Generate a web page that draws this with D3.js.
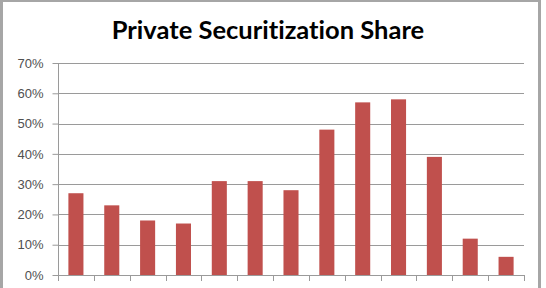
<!DOCTYPE html>
<html>
<head>
<meta charset="utf-8">
<script src="https://cdn.jsdelivr.net/npm/d3@7"></script>
<style>
  body { margin: 0; background: #fff; }
  text { font-variant-ligatures: none; }
</style>
</head>
<body>
<div id="chart"></div>
<script>
// data
var categories = ["1","2","3","4","5","6","7","8","9","10","11","12","13"];
var shares = [27, 23, 18, 17, 31, 31, 28, 48, 57, 58, 39, 12, 6];
var yTicks = [0, 10, 20, 30, 40, 50, 60, 70];
var title = "Private Securitization Share";

var w = 546, h = 288;
var padL = 58, padR = 524, padT = 63, padB = 275;

var svg = d3.select("#chart").append("svg")
  .attr("width", w).attr("height", h);

// frame like the excel chart area
svg.append("rect").attr("x", 0).attr("y", 0).attr("width", 3).attr("height", h).attr("fill", "#a6a6a6");
svg.append("rect").attr("x", 0).attr("y", 0).attr("width", 541).attr("height", 2).attr("fill", "#a6a6a6");
svg.append("rect").attr("x", 538).attr("y", 0).attr("width", 3).attr("height", h).attr("fill", "#a6a6a6");

var x = d3.scaleBand().domain(categories).range([padL, padR]).paddingInner(0.58).paddingOuter(0.29);
var xb = d3.scaleBand().domain(categories).range([padL, padR]);
var y = d3.scaleLinear().domain([0, 70]).range([padB, padT]);

// gridlines
svg.append("g").selectAll("line").data(yTicks.slice(1)).enter().append("line")
  .attr("x1", padL).attr("x2", padR)
  .attr("y1", function(d){ return Math.round(y(d)) + 0.5; })
  .attr("y2", function(d){ return Math.round(y(d)) + 0.5; })
  .attr("stroke", "#9a9a9a").attr("stroke-width", 1);

// bars
svg.append("g").selectAll("rect").data(shares).enter().append("rect")
  .attr("x", function(d, i){ return x(categories[i]); })
  .attr("y", function(d){ return y(d); })
  .attr("width", x.bandwidth())
  .attr("height", function(d){ return padB - y(d); })
  .attr("fill", "#c0504d");

// y axis
var yAxis = d3.axisLeft(y).tickValues(yTicks).tickSize(6).tickPadding(9)
  .tickFormat(function(d){ return d + "%"; });
var gy = svg.append("g").attr("transform", "translate(" + (padL + 0.5) + ",0)").call(yAxis);
gy.select(".domain").attr("stroke", "#9a9a9a").attr("d", "M0," + padT + "V" + padB);
gy.selectAll(".tick line").attr("stroke", "#9a9a9a");
gy.selectAll("text").attr("font-family", "'Liberation Sans', Arial, sans-serif").attr("font-size", "13px").attr("fill", "#505050");

// x axis line + ticks at band boundaries
var bounds = categories.map(function(c){ return xb(c); }).concat([padR]);
svg.append("line").attr("x1", padL).attr("x2", padR + 1)
  .attr("y1", padB + 0.5).attr("y2", padB + 0.5).attr("stroke", "#9a9a9a");
svg.append("g").selectAll("line").data(bounds).enter().append("line")
  .attr("x1", function(d){ return Math.round(d) + 0.5; })
  .attr("x2", function(d){ return Math.round(d) + 0.5; })
  .attr("y1", padB).attr("y2", padB + 6)
  .attr("stroke", "#9a9a9a");

// title
svg.append("text").attr("x", 268).attr("y", 39)
  .attr("text-anchor", "middle")
  .attr("font-family", "Lato, 'Open Sans', sans-serif")
  .attr("font-weight", "bold").attr("font-size", "25.5px")
  .attr("fill", "#000")
  .text(title);
</script>
</body>
</html>
